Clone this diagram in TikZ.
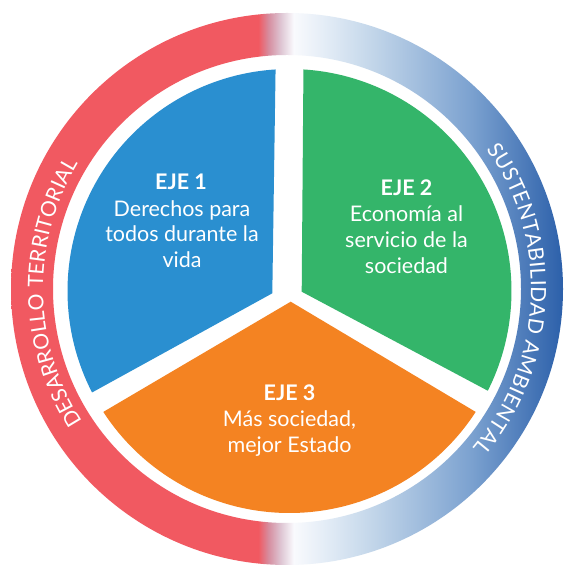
\documentclass[tikz,border=0pt]{standalone}
\usepackage{fontspec}
\setmainfont{Lato}
\usetikzlibrary{decorations.text,calc}
\definecolor{ringred}{RGB}{241,89,97}
\definecolor{mauveA}{RGB}{214,140,158}
\definecolor{mauveB}{RGB}{222,196,210}
\definecolor{ringwhite}{RGB}{249,250,253}
\definecolor{lbA}{RGB}{224,234,245}
\definecolor{lbB}{RGB}{196,215,234}
\definecolor{lbC}{RGB}{124,162,208}
\definecolor{ringblue}{RGB}{44,96,170}
\definecolor{ejeblue}{RGB}{42,143,208}
\definecolor{ejegreen}{RGB}{52,181,106}
\definecolor{ejeorange}{RGB}{244,131,34}
\pgfdeclarehorizontalshading{ringshade}{100bp}{color(0bp)=(ringred); color(47.4bp)=(ringred); color(48.3bp)=(mauveA); color(49.4bp)=(mauveB); color(50.6bp)=(ringwhite); color(53.9bp)=(lbA); color(57.5bp)=(lbB); color(66.6bp)=(lbC); color(75bp)=(ringblue); color(100bp)=(ringblue)}
\newcommand\ringfont{\fontsize{21}{21}\selectfont}
\begin{document}
\begin{tikzpicture}[x=1pt,y=1pt,
  lbl/.style={text=white, anchor=base, inner sep=0pt, font=\fontsize{21.5}{24}\selectfont},
  ttl/.style={lbl, font=\fontsize{21.5}{24}\selectfont\bfseries},
  ringtext/.style={decorate, decoration={text along path, text color=white, text align={fit to path}}}]
\useasboundingbox (0,0) rectangle (567,570);
\fill[white] (0,0) rectangle (567,570);
\coordinate (Cr) at (287,281);
\coordinate (O) at (289.5,279);
% ring
\shade[shading=ringshade, even odd rule] (Cr) circle[radius=276] (Cr) circle[radius=234];
% sectors
\coordinate (bi) at (272.3,276.7);
\coordinate (gi) at (301.7,278.3);
\coordinate (oi) at (290.7,268.3);
\fill[ejeblue] (bi) -- ($(O)+(93.6:222)$) arc[start angle=93.6, end angle=207.2, radius=222] -- cycle;
\fill[ejegreen] (gi) -- ($(O)+(-26.7:222)$) arc[start angle=-26.7, end angle=86.4, radius=222] -- cycle;
\fill[ejeorange] (oi) -- ($(O)+(213:222)$) arc[start angle=213, end angle=327, radius=222] -- cycle;
% ring texts
\coordinate (L0) at ($(Cr)+(213:244)$);
\coordinate (R0) at ($(Cr)+(35:244)$);
\path[ringtext, decoration={text={|\ringfont|DESARROLLO TERRITORIAL}}] (L0) arc[start angle=213, end angle=149, radius=244];
\path[ringtext, decoration={text={|\ringfont|SUSTENTABILIDAD AMBIENTAL}}] (R0) arc[start angle=35, end angle=-40.5, radius=244];
% labels
\node[ttl] (b1) at (181,380) {EJE 1};
\node[lbl] (b2) at (182,353.3) {Derechos para};
\node[lbl] (b3) at (182,328.3) {todos durante la};
\node[lbl] (b4) at (182,302.7) {vida};
\node[ttl] (g1) at (406.5,374) {EJE 2};
\node[lbl] (g2) at (406.5,348.3) {Economía al};
\node[lbl] (g3) at (406.5,322.7) {servicio de la};
\node[lbl] (g4) at (406.5,296.7) {sociedad};
\node[ttl] (o1) at (289.5,169.3) {EJE 3};
\node[lbl] (o2) at (289.5,143.3) {Más sociedad,};
\node[lbl] (o3) at (289.5,117.3) {mejor Estado};
\end{tikzpicture}
\end{document}
